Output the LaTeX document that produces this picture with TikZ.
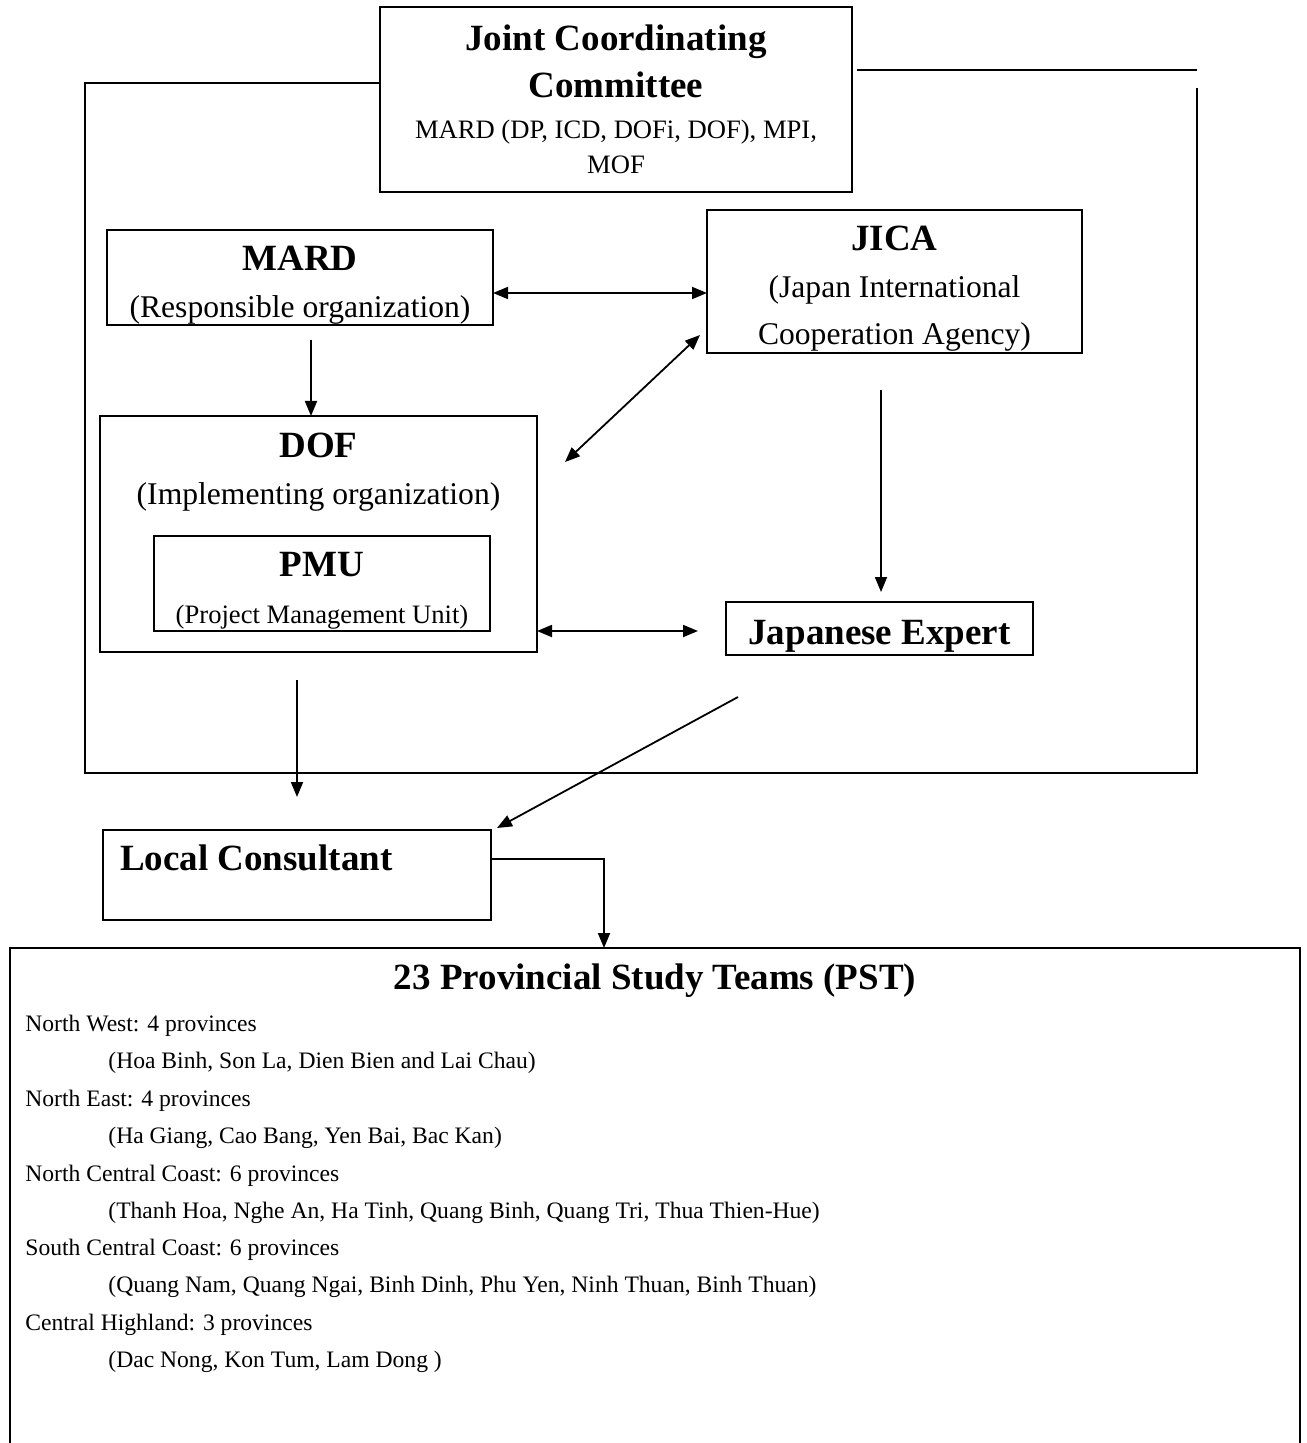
\documentclass[tikz,border=0pt]{standalone}
\usepackage{fontspec}
\setmainfont{Liberation Serif}
\usetikzlibrary{arrows.meta,positioning}

\newcommand\boxhead{\fontsize{18.5}{23.5}\selectfont\bfseries}
\newcommand\boxsub{\fontsize{15.8}{23.5}\selectfont\mdseries}
\newcommand\smallsub{\fontsize{13.3}{23.5}\selectfont\mdseries}
\newcommand\headstrut{\rule{0pt}{19.5pt}}

\begin{document}
\begin{tikzpicture}[
x=0.5pt, y=-0.5pt,
node distance=0pt,
     box/.style = {rectangle, draw, line width=1.1pt,% styles of boxes
                   inner sep=0pt, outer sep=0pt, align=center,
                   font=\fontsize{15.8}{23.5}\selectfont},
     txt/.style = {inner sep=0pt, outer sep=0pt, align=center,
                   font=\fontsize{15.8}{23.5}\selectfont},
listtext/.style = {inner sep=0pt, anchor=west, text height=8.2pt, text depth=2.6pt,
                   font=\fontsize{11.8}{14}\selectfont},
     arr/.style = {line width=0.9pt, -{Triangle[length=7.5pt,width=6pt]}},
     dbl/.style = {line width=0.9pt,% arrows with two heads
                   {Triangle[length=7.5pt,width=6pt]}-{Triangle[length=7.5pt,width=6pt]}},
   frame/.style = {line width=1.1pt},
                        ]
\useasboundingbox (0,0) rectangle (1306,1443);

% boxes
\node[box, minimum width=236pt, minimum height=92.5pt] (jcc) at (616,99.5)
    {{\boxhead Joint Coordinating}\\{\boxhead Committee}\\[-3pt]
     {\smallsub MARD (DP, ICD, DOFi, DOF), MPI,}\\[-6pt]{\smallsub MOF}};
\node[box, minimum width=193pt, minimum height=47.5pt] (mard) at (300,277.5)
    {{\headstrut\boxhead MARD}\\{\boxsub (Responsible organization)}};
\node[box, minimum width=187.5pt, minimum height=71.5pt] (jica) at (894.5,281.5)
    {{\headstrut\boxhead JICA}\\{\boxsub (Japan International}\\{\boxsub Cooperation Agency)}};
\node[box, minimum width=218.5pt, minimum height=118pt] (dof) at (318.5,534) {};
\node[txt] (doflabel) at ([yshift=-28.25pt]dof.north)
    {{\boxhead DOF}\\{\boxsub (Implementing organization)}};
\node[box, minimum width=168pt, minimum height=47.5pt] (pmu) at (322,583.5)
    {{\headstrut\boxhead PMU}\\{\smallsub (Project Management Unit)}};
\node[box, minimum width=153.5pt, minimum height=26.5pt] (je) at (879.5,628.5)
    {\headstrut\boxhead Japanese Expert};
\node[box, minimum width=194pt, minimum height=45pt] (lc) at (297,875) {};
\node[txt, anchor=west] (lclabel) at ([xshift=8.5pt,yshift=8.5pt]lc.west)
    {\boxhead Local Consultant};
\node[box, minimum width=645pt, minimum height=256pt] (pst) at (655,1204) {};
\node[txt] (psttitle) at ([yshift=-16.5pt]pst.north)
    {\boxhead 23 Provincial Study Teams (PST)};

\foreach \reg/\prov [count=\i] in {% <-- regions and their provinces
    {North West: 4 provinces}/{(Hoa Binh, Son La, Dien Bien and Lai Chau)},
    {North East: 4 provinces}/{(Ha Giang, Cao Bang, Yen Bai, Bac Kan)},
    {North Central Coast: 6 provinces}/{(Thanh Hoa, Nghe An, Ha Tinh, Quang Binh, Quang Tri, Thua Thien-Hue)},
    {South Central Coast: 6 provinces}/{(Quang Nam, Quang Ngai, Binh Dinh, Phu Yen, Ninh Thuan, Binh Thuan)},
    {Central Highland: 3 provinces}/{(Dac Nong, Kon Tum, Lam Dong )}}
{
    \node[listtext] (reg\i)  at (25,  {1026+74.75*(\i-1)}) {\reg};
    \node[listtext] (prov\i) at (108, {1063+74.75*(\i-1)}) {\prov};
}

% outer frame
\coordinate (ftl) at (85,83);
\coordinate (fbl) at (85,773);
\coordinate (fbr) at (1197,773);
\coordinate (ftr) at (1197,70);
\draw[frame] (jcc.west |- ftl) -- (ftl) -- (fbl) -- (fbr) -- ([yshift=-9pt]ftr);
\draw[frame] ([xshift=2.5pt]jcc.east |- ftr) -- (ftr);

% connectors
\draw[dbl] ([yshift=-7.75pt]mard.east) -- ([yshift=-5.75pt]jica.west);
\draw[arr, shorten <=7.5pt] ([xshift=5.5pt]mard.south) -- ([xshift=5.5pt]mard.south |- dof.north);
\draw[dbl] ([shift={(14pt,-23pt)}]dof.north east) -- ([shift={(-3.5pt,9pt)}]jica.south west);
\draw[arr, shorten <=18.5pt, shorten >=5pt] ([xshift=0.75pt]jica.south -| je.north) -- ([xshift=0.75pt]je.north);
\draw[dbl, shorten >=14pt] ([yshift=-1.25pt]dof.east |- je.west) -- ([yshift=-1.25pt]je.west);
\draw[arr, shorten <=14pt, shorten >=16.5pt] (dof.south -| lc.north) -- (lc.north);
\draw[arr] ([shift={(6pt,-21pt)}]je.south west) -- ([shift={(3pt,1pt)}]lc.north east);
\draw[arr] ([yshift=8pt]lc.east) -| ([xshift=-25.5pt]pst.north);
\end{tikzpicture}
\end{document}
